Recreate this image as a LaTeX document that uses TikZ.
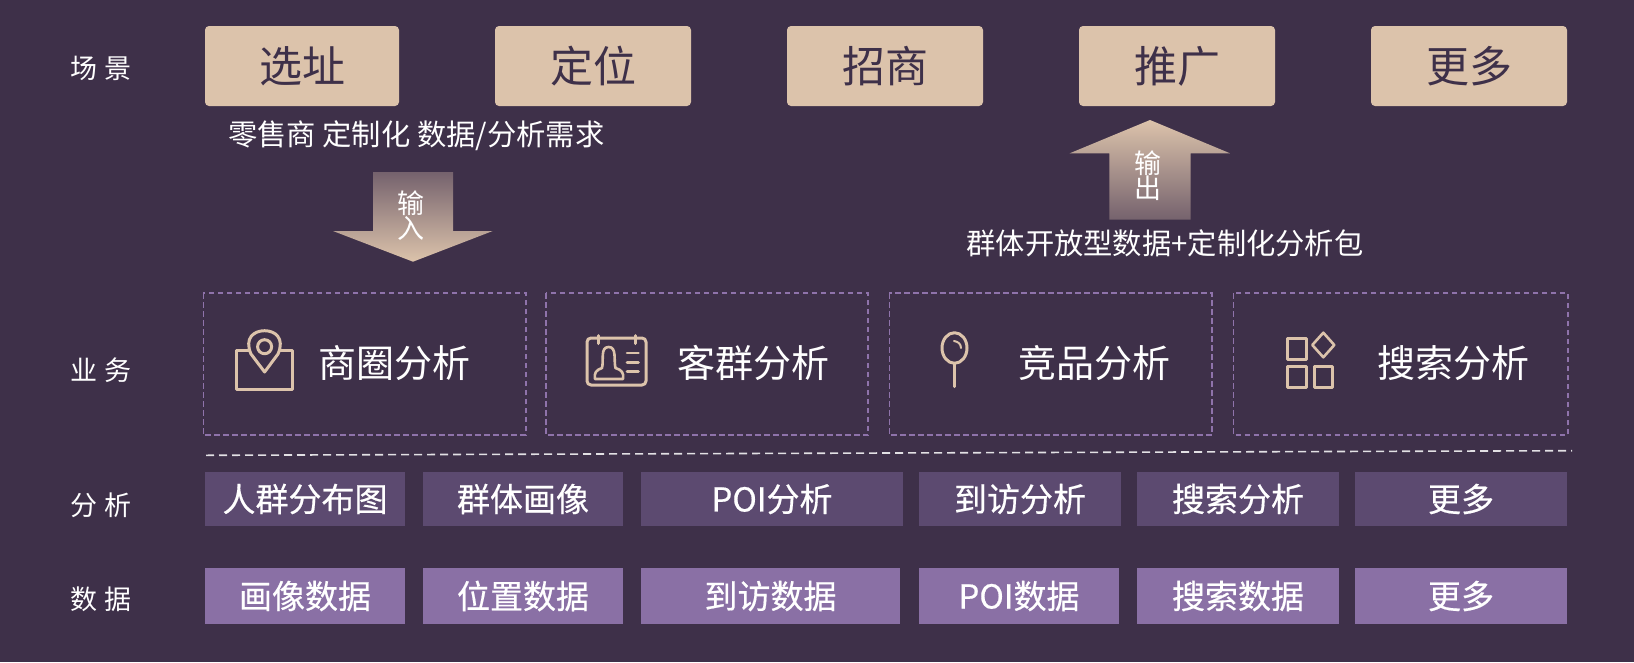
\documentclass[tikz,border=0pt]{standalone}
\usepackage{fontspec}
\setmainfont{Noto Sans CJK SC}
\newfontfamily\medf[FakeBold=0.5]{Noto Sans CJK SC}
\definecolor{bgc}{HTML}{3E3049}
\definecolor{sand}{HTML}{DCC3AB}
\definecolor{anac}{HTML}{5C4A70}
\definecolor{datc}{HTML}{8A70A5}
\definecolor{dashc}{HTML}{8F73AB}
\definecolor{arrowdark}{HTML}{75626D}
\tikzset{
  x=1pt,y=-1pt,
  fs/.style={font=\fontsize{#1}{#1}\selectfont},
  fsm/.style={font=\medf\fontsize{#1}{#1}\selectfont},
  base/.style={inner sep=0pt,outer sep=0pt,align=center},
  topbox/.style={base,fill=sand,text=bgc,rounded corners=4pt,minimum width=#1,minimum height=80pt,fs=43},
  bizbox/.style={base,draw=dashc,line width=1.6pt,dash pattern=on 5.5pt off 3.5pt},
  bizlabel/.style={base,text=white,fs=38},
  anabox/.style={base,fill=anac,text=white,minimum width=#1,minimum height=54pt,fsm=33},
  datbox/.style={base,fill=datc,text=white,minimum width=#1,minimum height=56pt,fsm=33},
  sidelabel/.style={base,text=white,fs=27},
  note/.style={base,text=white,fs=29.3},
  arrowtext/.style={base,text=white,fs=27},
  icon/.style={draw=sand,line width=3pt,line join=round,fill=none},
}
\begin{document}
\begin{tikzpicture}
\useasboundingbox (0,0) rectangle (1634,662);
\fill[bgc] (0,0) rectangle (1634,662);

% side labels
\node[sidelabel] (l1) at (101,68) {场\hspace{8pt}景};
\node[sidelabel] (l2) at (101,370) {业\hspace{8pt}务};
\node[sidelabel] (l3) at (101,505) {分\hspace{8pt}析};
\node[sidelabel] (l4) at (101,599) {数\hspace{8pt}据};

% scenarios
\node[topbox=194pt] (s1) at (302,66) {选址};
\node[topbox=196pt] (s2) at (593,66) {定位};
\node[topbox=196pt] (s3) at (885,66) {招商};
\node[topbox=196pt] (s4) at (1177,66) {推广};
\node[topbox=196pt] (s5) at (1469,66) {更多};

% arrows
\path[top color=arrowdark,bottom color=sand]
  (373,172) -- (453,172) -- (453,231) -- (492.7,231) -- (413,261.7) -- (333,231) -- (373,231) -- cycle;
\path[top color=sand,bottom color=arrowdark]
  (1150,120) -- (1230,153.3) -- (1190.7,153.3) -- (1190.7,219.7) -- (1109.3,219.7) -- (1109.3,153.3) -- (1069.7,153.3) -- cycle;
\node[note] (n1) at (416.3,136) {零售商 定制化 数据/分析需求};
\node[note] (n2) at (1165,243) {群体开放型数据+定制化分析包};
\node[arrowtext] (a1) at (410.7,203) {输};
\node[arrowtext] (a2) at (410.7,228) {入};
\node[arrowtext] (a3) at (1147.7,163) {输};
\node[arrowtext] (a4) at (1147.7,188) {出};

% business boxes
\draw[bizbox] (203.4,293) rectangle (525.7,435);
\draw[bizbox] (546,293) rectangle (868,435);
\draw[bizbox] (889.4,293) rectangle (1212,435);
\draw[bizbox] (1233.6,293) rectangle (1568,435);
\node[bizlabel] (b1) at (394.5,363) {商圈分析};
\node[bizlabel] (b2) at (753.5,363) {客群分析};
\node[bizlabel] (b3) at (1094,363) {竞品分析};
\node[bizlabel] (b4) at (1453,363) {搜索分析};

% map pin icon
\draw[icon] (250,350.7) -- (236,350.7) -- (236,389) -- (292.7,389) -- (292.7,350.7) -- (279,350.7);
\draw[icon] (264.6,372) -- (251,354) .. controls (244,338) and (254,330.7) .. (264.6,330.7) .. controls (275,330.7) and (285,338) .. (278,354) -- cycle;
\draw[icon] (264.6,346.7) circle (7);

% id card icon
\draw[icon,rounded corners=4pt] (587,338) rectangle (646,385);
\draw[icon,line cap=round] (598.5,335.5) -- (598.5,343.5);
\draw[icon,line cap=round] (635,335.5) -- (635,343.5);
\draw[icon,line width=2.6pt] (602,368) .. controls (604,360) and (600,347) .. (608.7,347) .. controls (617,347) and (613.5,360) .. (615.5,368) .. controls (622,370) and (624,373) .. (623,379) -- (595,379) .. controls (594,373) and (596,370) .. (602,368) -- cycle;
\draw[icon,line width=2.6pt,line cap=round] (627,353) -- (638.5,353);
\draw[icon,line width=2.6pt,line cap=round] (627,362.7) -- (638.5,362.7);
\draw[icon,line width=2.6pt,line cap=round] (627,371.7) -- (638.5,371.7);

% balloon icon
\draw[icon] (954.5,348) ellipse (12.5 and 15.3);
\draw[icon,line cap=round] (954.5,363.3) -- (954.5,386.7);
\draw[icon,line width=2pt,line cap=round] (954,341) .. controls (958,341.5) and (961,344) .. (961,348);

% shapes icon
\draw[icon] (1287.6,338.3) rectangle (1306.3,359);
\draw[icon] (1287.6,366.7) rectangle (1306.3,387.3);
\draw[icon] (1314,366.7) rectangle (1332.7,387.3);
\draw[icon,line width=2.6pt] (1323.3,332.7) -- (1334.3,345) -- (1323.3,357.3) -- (1312.3,345) -- cycle;

% separator
\coordinate (sepL) at (206,455.3);
\coordinate (sepR) at (1572,450.7);
\draw[white!85!bgc,line width=1.6pt,dash pattern=on 8pt off 5pt] (sepL) -- (sepR);

% analysis row
\node[anabox=200pt] (r1) at (305,499) {人群分布图};
\node[anabox=200pt] (r2) at (523,499) {群体画像};
\node[anabox=262pt] (r3) at (772,499) {POI分析};
\node[anabox=202pt] (r4) at (1020,499) {到访分析};
\node[anabox=202pt] (r5) at (1238,499) {搜索分析};
\node[anabox=212pt] (r6) at (1461,499) {更多};

% data row
\node[datbox=200pt] (d1) at (305,596) {画像数据};
\node[datbox=200pt] (d2) at (523,596) {位置数据};
\node[datbox=259pt] (d3) at (770.5,596) {到访数据};
\node[datbox=200pt] (d4) at (1019,596) {POI数据};
\node[datbox=202pt] (d5) at (1238,596) {搜索数据};
\node[datbox=212pt] (d6) at (1461,596) {更多};
\end{tikzpicture}
\end{document}
